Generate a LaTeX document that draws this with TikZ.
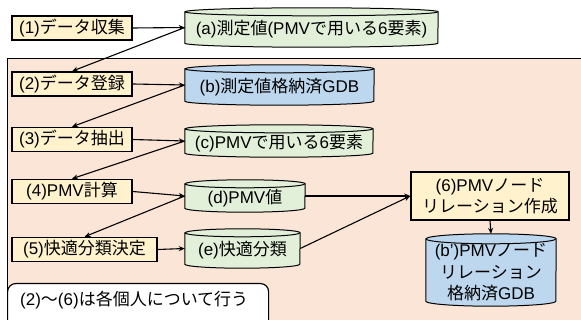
\documentclass[tikz,border=0pt]{standalone}
\usepackage{fontspec}
\setmainfont{Noto Sans CJK JP}
\newfontfamily\latf{Liberation Sans}
\newcommand\lt[1]{{\latf #1}}
\usetikzlibrary{arrows.meta}
\definecolor{pinkbg}{HTML}{FBE5D6}
\definecolor{ybox}{HTML}{FFF2CC}
\definecolor{gcyl}{HTML}{E2F0D9}
\definecolor{bcyl}{HTML}{BDD7EE}
\tikzset{
  stepbox/.style={draw, fill=ybox, line width=1.5pt, inner sep=0pt, minimum height=24pt},
  conn/.style={line width=1.1pt, -{Stealth[length=6pt,width=5pt]}},
  cylline/.style={line width=1pt},
}
\newcommand\cyl[8]{%
  \node[minimum width=#4pt,minimum height=#5pt,inner sep=0pt] (#1) at (#2,#3) {};
  \filldraw[fill=#6,cylline] ([yshift=-#8pt]#1.north west) -- ([yshift=#8pt]#1.south west)
     arc[start angle=180,end angle=360,x radius=#4pt/2,y radius=#8pt]
     -- ([yshift=-#8pt]#1.north east)
     arc[start angle=0,end angle=180,x radius=#4pt/2,y radius=#8pt] -- cycle;
  \draw[cylline] ([yshift=-#8pt]#1.north west) arc[start angle=180,end angle=360,x radius=#4pt/2,y radius=#8pt];
  \node[align=center, inner sep=0pt] (#1t) at ([yshift=-#8pt/2]#1.center) {#7};
}
\begin{document}
\begin{tikzpicture}[x=1pt,y=-1pt,font=\fontsize{17}{21.5}\selectfont]
\useasboundingbox (0,0) rectangle (581,320);
\clip (0,0) rectangle (581,320);
\fill[white] (0,0) rectangle (581,320);
\node[draw, fill=pinkbg, line width=1pt, minimum width=590pt, minimum height=280pt, anchor=north west, inner sep=0pt] (bg) at (7,58) {};

\node[stepbox, minimum width=120pt] (p1) at (72,28) {\lt{(1)}データ収集};
\node[stepbox, minimum width=120pt] (p2) at (72,84) {\lt{(2)}データ登録};
\node[stepbox, minimum width=120pt] (p3) at (72,139.5) {\lt{(3)}データ抽出};
\node[stepbox, minimum width=120pt] (p4) at (72,191.5) {\lt{(4)PMV}計算};
\node[stepbox, minimum width=145pt] (p5) at (84.5,249.5) {\lt{(5)}快適分類決定};

\cyl{a}{311.5}{27.5}{253}{39}{gcyl}{\lt{(a)}測定値\lt{(PMV}で用いる\lt{6}要素\lt{)}}{4}
\cyl{b}{279.5}{85}{189}{40}{bcyl}{\lt{(b)}測定値格納済\lt{GDB}}{4}
\cyl{c}{279}{141}{188}{32}{gcyl}{\lt{(c)PMV}で用いる\lt{6}要素}{4}
\cyl{d}{245}{196}{120}{32}{gcyl}{\lt{(d)PMV}値}{4}
\cyl{e}{242.5}{248.5}{115}{39}{gcyl}{\lt{(e)}快適分類}{4}

\node[stepbox, minimum width=158pt, minimum height=48pt, align=center] (six) at (490,196) {\lt{(6)PMV}ノード\\リレーション作成};
\cyl{bp}{491}{270}{130}{72}{bcyl}{\lt{(b’)PMV}ノード\\リレーション\\格納済\lt{GDB}}{5}

\node[draw, fill=white, line width=1.2pt, rounded corners=8pt, minimum width=261pt, minimum height=50pt, anchor=north west, inner sep=0pt] (note) at (7,283) {};
\node[anchor=west, inner sep=0pt] (notet) at (20,300) {\lt{(2)}〜\lt{(6)}は各個人について行う};

\draw[conn] (p1.east) -- (a.west);
\draw[conn] (a.west) -- (p2.north);
\draw[conn] (p2.east) -- (b.west);
\draw[conn] (b.west) -- (p3.north);
\draw[conn] (p3.east) -- (c.west);
\draw[conn] (c.west) -- (p4.north);
\draw[conn] (p4.east) -- (d.west);
\draw[conn] (d.west) -- (p5.north);
\draw[conn] (p5.east) -- (e.west);
\draw[conn] (d.east) -- (six.west);
\draw[conn] (e.east) -- (six.west);
\draw[conn] (six.south) -- (bp.north);
\end{tikzpicture}
\end{document}
